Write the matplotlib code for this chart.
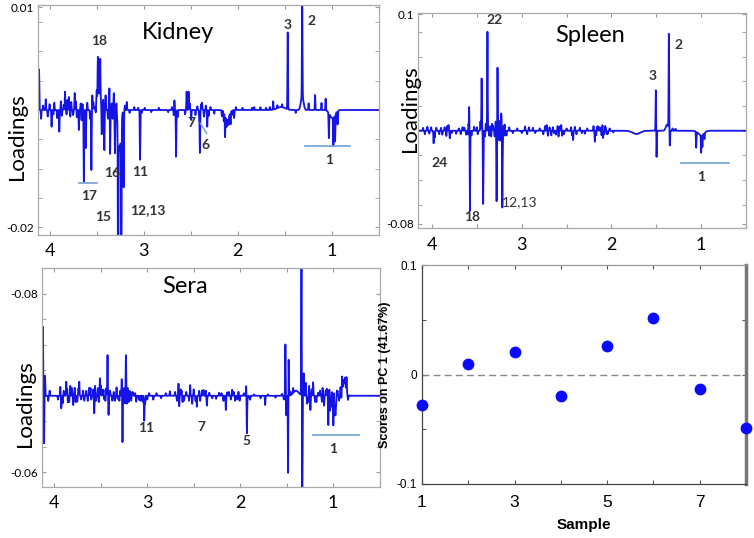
import numpy as np
import matplotlib.pyplot as plt

# ---- Kidney loadings (ppm, value above baseline) ----
kid_base = -0.004
kid_pos = [4.112, 4.041, 3.979, 3.897, 3.836, 3.795, 3.733, 3.689, 3.636, 3.615,
           3.556, 3.546, 3.487, 3.462, 3.446, 3.418, 3.405, 3.364, 3.357, 3.318,
           3.306, 3.272, 3.238, 3.213, 3.180, 3.039, 2.674, 2.656, 2.544, 2.523,
           2.495, 2.403, 2.380, 2.325, 2.136, 2.077, 2.040, 1.826, 1.761, 1.624,
           1.470, 1.385, 1.316, 1.248, 1.179, 1.111, 1.067, 1.033, 0.985, 0.967,
           0.940]
kid_hgt = [0.00556, 0.00146, -0.00228, -0.00296, 0.0025, 0.00177, 0.00232, -0.00273, -0.00979, -0.0052,
           -0.00819, 0.0020, 0.0052, 0.0052, -0.0041, -0.0049, 0.0020, 0.0030, -0.0061, 0.0023,
           -0.0059, -0.0273, -0.0273, -0.0105, 0.0011, -0.0068, 0.00137, -0.00637, 0.0025, 0.0025,
           -0.00137, -0.00583, 0.0010, -0.00228, -0.00296, -0.00164, -0.0011, 0.0004, 0.00037, 0.00113,
           0.01047, -0.0004, 0.0150, 0.00091, 0.00205, 0.00096, 0.0016, -0.0034, -0.00386, -0.00364,
           -0.0018]
kid_fine_pos = [4.09, 4.07, 4.02, 4.00, 3.96, 3.95, 3.92, 3.88, 3.87, 3.85, 3.82, 3.81,
                3.78, 3.77, 3.75, 3.72, 3.71, 3.67, 3.66, 3.65, 3.60, 3.57, 3.535, 3.51,
                3.50, 3.43, 3.42, 3.38, 3.37, 3.34, 3.33, 3.29, 3.20, 3.15, 3.10, 3.06,
                3.02, 2.99, 2.92, 2.84, 2.74, 2.70, 2.68, 2.64, 2.56, 2.51, 2.45, 2.43,
                2.41, 2.39, 2.36, 2.34, 2.31, 2.29, 2.25, 2.17, 2.15, 2.12, 2.10, 2.06,
                2.02, 1.95, 1.85, 1.70, 1.66, 1.58, 1.53]
kid_fine_hgt = [-0.0012, 0.0006, -0.0009, 0.0008, -0.0006, 0.0010, -0.0011, 0.0012, -0.0008,
                0.0007, -0.0006, 0.0014, -0.0009, 0.0011, -0.0007, 0.0012, -0.0010, 0.0009,
                -0.0014, 0.0008, 0.0010, -0.0012, 0.0010, -0.0010, 0.0014, 0.0012, -0.0008,
                -0.0012, 0.0010, 0.0009, -0.0012, 0.0012, 0.0006, -0.0004, 0.0004, 0.0003,
                -0.0004, 0.0003, -0.0003, 0.0003, -0.0003, 0.0004, -0.0008, -0.0010, -0.0006,
                0.0009, -0.0007, 0.0005, -0.0010, 0.0008, -0.0009, 0.0006, -0.0008, 0.0004,
                -0.0005, -0.0008, -0.0012, -0.0010, -0.0009, -0.0006, 0.0004, 0.0003, 0.0003,
                0.0003, 0.0004, 0.0004, 0.0004]
kid_broad_pos = [3.477, 3.256, 2.113, 1.540, 1.316, 0.995]
kid_broad_hgt = [0.0023, -0.0055, -0.00137, 0.0004, 0.0018, -0.0011]
kid_broad_wid = [0.03, 0.02, 0.03, 0.06, 0.02, 0.04]

# ---- Spleen loadings ----
spl_pos = [4.052, 3.982, 3.952, 3.886, 3.816, 3.802, 3.730, 3.640, 3.620, 3.586,
           3.577, 3.530, 3.447, 3.430, 3.382, 3.363, 3.319, 3.302, 3.280, 3.270,
           3.252, 3.241, 3.230, 3.216, 3.200, 3.185, 2.963, 2.875, 2.722, 2.708,
           2.652, 2.619, 2.574, 2.550, 2.427, 2.408, 2.352, 2.296, 2.185, 2.163,
           2.130, 2.093, 2.063, 2.040, 1.505, 1.497, 1.360, 1.349, 1.319, 1.286,
           1.056, 1.000, 0.986, 0.963]
spl_hgt = [0.0034, -0.0108, 0.0026, -0.0034, 0.0049, -0.0065, -0.0026, 0.0026, -0.0034, 0.0206,
           -0.0686, 0.0034, 0.0449, -0.0630, 0.0851, -0.0043, 0.0043, -0.0050, -0.0607, 0.0543,
           0.0086, -0.0086, 0.0124, -0.0654, 0.0043, -0.0050, 0.0037, 0.0026, 0.0049, -0.0043,
           0.0030, -0.0034, 0.0039, -0.0043, -0.0080, 0.0034, 0.0026, -0.0026, -0.0095, 0.0034,
           0.0030, -0.0065, 0.0026, -0.0026, 0.0350, -0.0229, 0.0814, -0.0132, 0.0020, 0.0017,
           -0.0138, -0.0151, -0.0103, -0.0052]
spl_fine_pos = [4.10, 4.08, 4.03, 4.01, 3.97, 3.92, 3.90, 3.86, 3.84, 3.83, 3.78, 3.70,
                3.68, 3.66, 3.60, 3.595, 3.56, 3.50, 3.49, 3.46, 3.41, 3.40, 3.35, 3.34,
                3.33, 3.29, 3.26, 3.225, 3.21, 3.19, 3.17, 3.14, 3.10, 3.05, 3.00, 2.94,
                2.92, 2.85, 2.80, 2.76, 2.74, 2.69, 2.67, 2.64, 2.60, 2.59, 2.56, 2.53,
                2.50, 2.45, 2.44, 2.39, 2.33, 2.27, 2.20, 2.17, 2.15, 2.11, 2.10, 2.08,
                2.07, 2.05, 2.02, 1.98]
spl_fine_hgt = [0.0025, -0.0030, -0.0025, 0.0030, -0.0060, -0.0030, 0.0025, 0.0030, -0.0045,
                0.0040, -0.0020, 0.0020, -0.0030, 0.0030, -0.0040, 0.0060, -0.0040, 0.0030,
                -0.0030, 0.0080, -0.0050, 0.0060, 0.0040, -0.0050, 0.0060, 0.0080, -0.0080,
                0.0100, -0.0080, 0.0060, -0.0040, 0.0030, -0.0020, 0.0020, -0.0020, -0.0030,
                0.0030, -0.0020, 0.0020, -0.0030, 0.0040, 0.0030, -0.0040, -0.0020, 0.0040,
                -0.0050, 0.0050, -0.0030, 0.0020, 0.0030, -0.0040, -0.0030, -0.0020, 0.0020,
                0.0040, -0.0040, 0.0040, -0.0040, 0.0050, -0.0030, 0.0040, -0.0030, 0.0020,
                -0.0015]
spl_broad_pos = [1.722, 1.380, 1.000]
spl_broad_hgt = [-0.0028, 0.0052, -0.0039]
spl_broad_wid = [0.06, 0.02, 0.045]

# ---- Sera loadings ----
ser_pos = [4.122, 4.110, 4.100, 4.065, 3.935, 3.925, 3.898, 3.871, 3.855, 3.828,
           3.796, 3.780, 3.753, 3.731, 3.677, 3.656, 3.624, 3.602, 3.570, 3.561,
           3.509, 3.484, 3.464, 3.427, 3.416, 3.376, 3.330, 3.319, 3.274, 3.266,
           3.229, 3.220, 3.190, 3.172, 3.151, 3.118, 3.075, 3.032, 3.022, 3.050,
           2.935, 2.756, 2.663, 2.656, 2.630, 2.604, 2.538, 2.516, 2.466, 2.441,
           2.395, 2.358, 2.333, 2.258, 2.226, 2.154, 2.140, 2.086, 2.054, 2.018,
           2.005, 1.935, 1.927, 1.892, 1.731, 1.513, 1.505, 1.484, 1.479, 1.340,
           1.332, 1.317, 1.296, 1.280, 1.258, 1.244, 1.215, 1.194, 1.161, 1.113,
           1.097, 1.068, 1.051, 1.032, 1.016, 0.997, 0.984, 0.968, 0.952, 0.935,
           0.903, 0.855]
ser_hgt = [0.0541, -0.0373, 0.0157, -0.0040, 0.0070, -0.0099, 0.0039, 0.0110, -0.0060, 0.0078,
           -0.0073, 0.0063, -0.0047, 0.0110, -0.0039, 0.0039, 0.0063, -0.0031, -0.0138, 0.0078,
           0.0136, 0.0047, -0.0031, 0.0319, -0.0151, -0.0039, 0.0066, -0.0024, 0.0133, -0.0365,
           0.0319, -0.0063, 0.0039, -0.0039, 0.0024, -0.0047, -0.0039, -0.0196, -0.0063, -0.0047,
           -0.0031, 0.0035, 0.0097, -0.0086, 0.0039, -0.0039, 0.0084, -0.0063, -0.0086, 0.0039,
           0.0046, -0.0078, 0.0024, -0.0024, 0.0024, -0.0112, 0.0027, 0.0047, -0.0039, 0.0031,
           -0.0039, 0.0078, -0.0295, -0.0031, -0.0073, 0.0405, -0.0157, -0.0661, 0.0360, 0.1200,
           -0.1000, 0.0176, 0.0102, -0.0063, 0.0078, -0.0112, 0.0105, -0.0047, 0.0024, 0.0063,
           -0.0078, 0.0055, -0.0230, -0.0118, 0.0047, -0.0235, -0.0157, -0.0078, 0.0039, -0.0039,
           0.0110, 0.0110]
ser_fine_pos = [4.05, 3.96, 3.91, 3.86, 3.84, 3.81, 3.77, 3.74, 3.71, 3.69, 3.64, 3.61,
                3.58, 3.55, 3.53, 3.52, 3.50, 3.47, 3.45, 3.44, 3.40, 3.36, 3.35, 3.30,
                3.29, 3.25, 3.24, 3.21, 3.20, 3.16, 3.13, 3.09, 3.00, 2.98, 2.90, 2.85,
                2.80, 2.70, 2.68, 2.64, 2.62, 2.58, 2.55, 2.50, 2.48, 2.43, 2.41, 2.37,
                2.30, 2.20, 2.18, 2.12, 2.10, 2.07, 2.03, 1.96, 1.90, 1.85, 1.78, 1.70,
                1.62, 1.55, 1.53, 1.46, 1.43, 1.27, 1.23, 1.18, 1.14, 1.12, 1.08, 1.04,
                1.02, 0.99, 0.975, 0.96, 0.92, 0.91, 0.89, 0.87, 0.84]
ser_fine_hgt = [0.004, -0.003, -0.006, 0.006, -0.005, 0.006, -0.005, 0.006, -0.003, 0.004,
                -0.004, 0.006, 0.005, -0.004, 0.006, -0.005, 0.008, 0.005, -0.004, 0.006,
                0.004, 0.003, -0.004, -0.004, 0.004, 0.006, -0.006, 0.006, -0.005, 0.003,
                0.002, -0.003, -0.003, 0.002, 0.002, -0.002, 0.002, 0.003, -0.004, 0.005,
                -0.005, 0.003, -0.004, 0.005, -0.004, -0.004, 0.004, 0.004, -0.002, 0.002,
                -0.004, 0.003, -0.003, 0.003, -0.003, 0.002, -0.002, 0.001, -0.002, 0.001,
                -0.0015, 0.0015, -0.003, 0.003, 0.004, -0.005, 0.005, -0.005, 0.004, -0.005,
                0.004, 0.005, -0.010, 0.004, -0.015, 0.004, 0.006, -0.004, 0.004, 0.006,
                -0.004]
ser_broad_pos = [1.398, 0.880]
ser_broad_hgt = [0.0039, 0.0097]
ser_broad_wid = [0.04, 0.025]

# ---- PC1 scores ----
sample = [1, 2, 3, 4, 5, 6, 7, 8]
scores = [-0.0274, 0.0094, 0.0207, -0.0199, 0.0262, 0.0512, -0.0128, -0.0485]

BLUE = '#1414e6'
LAB = '#333333'
BRK = '#6f9fd8'
W, H = 754, 538
ppm = np.linspace(4.25, 0.4, 9000)


def build(base, pos, hgt, fpos, fhgt, bpos, bhgt, bwid, w=0.0038):
    y = np.full_like(ppm, base)
    for p, h in zip(list(pos) + list(fpos), list(hgt) + list(fhgt)):
        y += h * np.exp(-((ppm - p) / w) ** 2)
    for p, h, bw in zip(bpos, bhgt, bwid):
        y += h * np.exp(-((ppm - p) / bw) ** 2)
    return y


def box(l, t, r, b):
    return [l / W, 1 - b / H, (r - l) / W, (b - t) / H]


def style_spec(ax, xlim, ylim, yminor, ylab_pos, ylab_txt):
    ax.set_xlim(*xlim)
    ax.set_ylim(*ylim)
    ax.set_xticks(np.arange(0.5, 4.01, 0.5))
    ax.set_xticklabels(['' if v % 1 else str(int(v)) for v in np.arange(0.5, 4.01, 0.5)],
                       fontsize=13, family='Lato')
    ax.set_yticks(ylab_pos)
    ax.set_yticklabels(ylab_txt, fontsize=8.5, family='Lato')
    ax.set_yticks(yminor, minor=True)
    ax.tick_params(which='both', direction='in', top=True, right=True, length=3,
                   color='#999999', pad=3)
    ax.tick_params(axis='x', pad=6)
    for s in ax.spines.values():
        s.set_color('#aaaaaa')
        s.set_linewidth(0.9)


fig = plt.figure(figsize=(W / 100, H / 100), dpi=100)

# Kidney
ax1 = fig.add_axes(box(38, 5, 379, 235))
ax1.plot(ppm, build(kid_base, kid_pos, kid_hgt, kid_fine_pos, kid_fine_hgt,
                    kid_broad_pos, kid_broad_hgt, kid_broad_wid), color=BLUE, lw=1.3)
style_spec(ax1, (4.123, 0.626), (-0.02106, 0.01033), np.arange(-0.02, 0.0081, 0.004),
           [0.01, -0.02], ['0.01', '-0.02'])
ax1.text(2.64, 0.0066, 'Kidney', fontsize=17, family='Lato', ha='center', va='center')
for txt, x, y in [('18', 3.47, 0.0054), ('3', 1.477, 0.0076), ('2', 1.221, 0.0082),
                  ('7', 2.495, -0.0058), ('6', 2.342, -0.0088), ('1', 1.026, -0.0108),
                  ('11', 3.036, -0.0125), ('16', 3.333, -0.0126), ('17', 3.583, -0.0158),
                  ('15', 3.436, -0.0186), ('12,13', 2.957, -0.0177)]:
    ax1.text(x, y, txt, fontsize=10, fontweight='bold', color=LAB, ha='center',
             va='center', family='Lato')
ax1.plot([3.692, 3.494], [-0.0139, -0.0139], color=BRK, lw=1.2)
ax1.plot([1.282, 0.810], [-0.0089, -0.0089], color=BRK, lw=1.2)
ax1.plot([2.40, 2.33], [-0.0058, -0.0072], color=BRK, lw=1.0)

# Spleen
ax2 = fig.add_axes(box(418, 12.7, 746, 228.3))
ax2.plot(ppm, build(0.0, spl_pos, spl_hgt, spl_fine_pos, spl_fine_hgt,
                    spl_broad_pos, spl_broad_hgt, spl_broad_wid), color=BLUE, lw=1.3)
style_spec(ax2, (4.156, 0.511), (-0.0839, 0.1015), np.arange(-3, 5) * 0.0212,
           [0.1, -0.08], ['0.1', '-0.08'])
ax2.text(2.241, 0.0823, 'Spleen', fontsize=17, family='Lato', ha='center', va='center')
for txt, x, y, wt in [('22', 3.297, 0.0952, 'bold'), ('3', 1.538, 0.047, 'bold'),
                      ('2', 1.252, 0.0737, 'bold'), ('24', 3.916, -0.028, 'bold'),
                      ('18', 3.556, -0.0745, 'bold'), ('12,13', 3.019, -0.0611, 'normal'),
                      ('1', 1.0, -0.0401, 'bold')]:
    ax2.text(x, y, txt, fontsize=10, fontweight=wt, color=LAB, ha='center',
             va='center', family='Lato')
ax2.plot([1.222, 0.693], [-0.028, -0.028], color=BRK, lw=1.2)

# Sera
ax3 = fig.add_axes(box(42, 268.3, 380, 486.7))
ax3.plot(ppm, build(0.0, ser_pos, ser_hgt, ser_fine_pos, ser_fine_hgt,
                    ser_broad_pos, ser_broad_hgt, ser_broad_wid), color=BLUE, lw=1.3)
style_spec(ax3, (4.132, 0.495), (-0.0713, 0.0999), np.arange(-0.06, 0.081, 0.02),
           [0.08, -0.06], ['-0.08', '-0.06'])
ax3.text(2.591, 0.0855, 'Sera', fontsize=17, family='Lato', ha='center', va='center')
for txt, x, y in [('11', 3.014, -0.0256), ('7', 2.419, -0.0243), ('5', 1.928, -0.0355),
                  ('1', 0.997, -0.0418)]:
    ax3.text(x, y, txt, fontsize=10, fontweight='bold', color=LAB, ha='center',
             va='center', family='Lato')
ax3.plot([1.22, 0.718], [-0.0308, -0.0308], color=BRK, lw=1.2)

for x, y in [(16.7, 136.7), (410, 109), (25, 404)]:
    fig.text(x / W, 1 - y / H, 'Loadings', rotation=90, fontsize=16, family='Lato',
             ha='center', va='center')

# Scores
ax4 = fig.add_axes(box(422, 265, 746, 484))
ax4.axhline(0, color='#888888', lw=1, ls=(0, (5, 3)))
ax4.plot(sample, scores, 'o', color='#0a0aff', ms=7.5, mec='#0a0aff', clip_on=False,
         zorder=5)
ax4.set_xlim(1, 8)
ax4.set_ylim(-0.1, 0.1)
ax4.set_xticks(range(1, 9))
ax4.set_xticklabels(['1', '', '3', '', '5', '', '7', ''], fontsize=12.5,
                    family='Liberation Sans')
ax4.set_yticks([-0.1, -0.05, 0, 0.05, 0.1])
ax4.set_yticklabels(['-0.1', '', '0', '', '0.1'], fontsize=8.5, family='Liberation Sans')
ax4.tick_params(direction='in', top=True, right=True, length=3, color='#555555')
ax4.tick_params(axis='x', pad=8)
ax4.set_xlabel('Sample', fontsize=11, fontweight='bold', family='Liberation Sans',
               labelpad=6)
ax4.set_ylabel('Scores on PC 1 (41.67%)', fontsize=9, fontweight='bold',
               family='Liberation Sans', labelpad=4)
for s in ax4.spines.values():
    s.set_color('#444444')
    s.set_linewidth(0.9)
ax4.spines['top'].set_color('#999999')
ax4.spines['right'].set_color('#777777')
ax4.spines['right'].set_linewidth(2.5)

fig.savefig('out.png', dpi=100)
